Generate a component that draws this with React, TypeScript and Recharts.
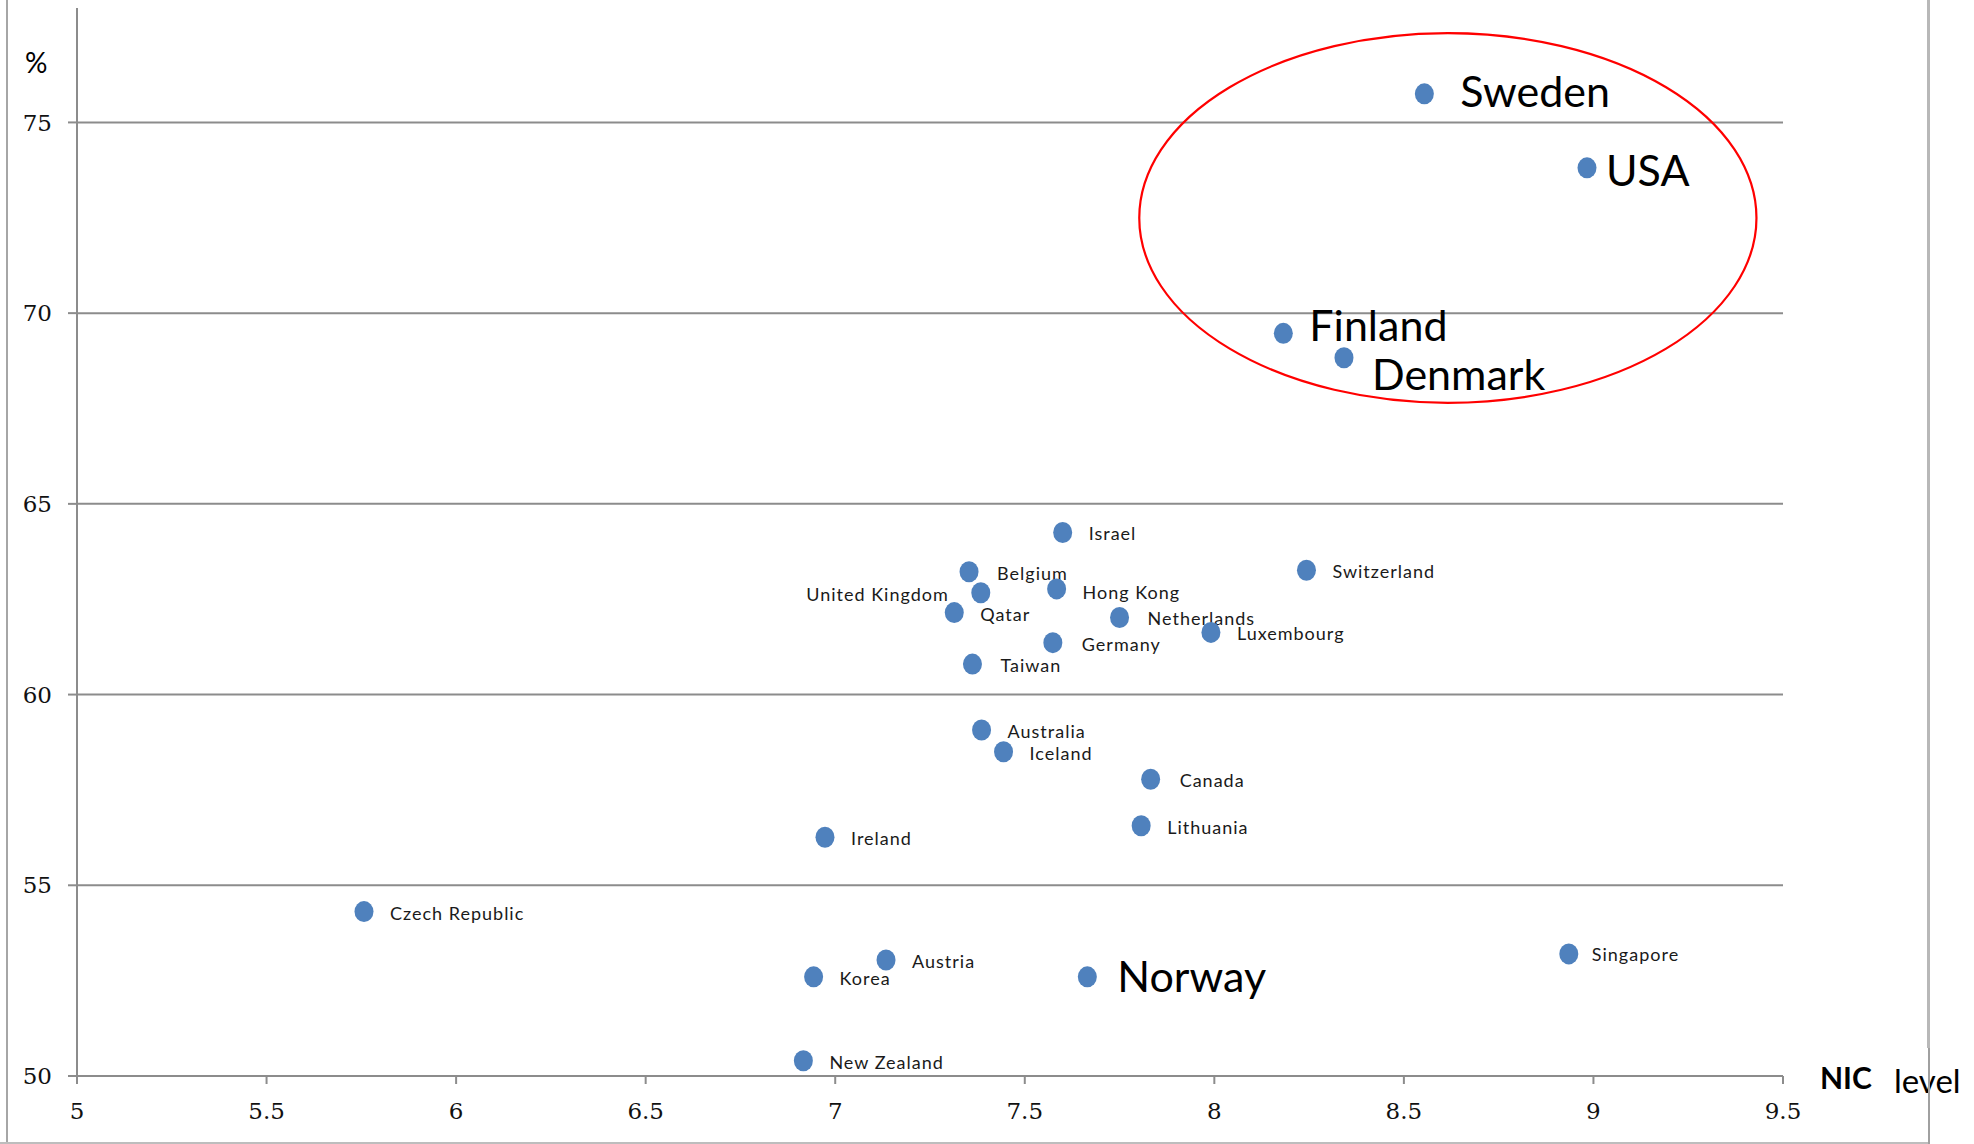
import React from 'react';
import {
  ScatterChart,
  Scatter,
  XAxis,
  YAxis,
  CartesianGrid,
  ReferenceArea,
  Label,
} from 'recharts';

// Countries, their NIC level (x) and share in percent (y)
const countries = [
  'Sweden', 'USA', 'Finland', 'Denmark', 'Israel', 'Switzerland', 'Belgium',
  'United Kingdom', 'Hong Kong', 'Qatar', 'Netherlands', 'Luxembourg', 'Germany',
  'Taiwan', 'Australia', 'Iceland', 'Canada', 'Lithuania', 'Ireland',
  'Czech Republic', 'Singapore', 'Austria', 'Korea', 'Norway', 'New Zealand',
];
const nicLevel = [
  8.554, 8.983, 8.182, 8.342, 7.6, 8.243, 7.353,
  7.384, 7.584, 7.314, 7.75, 7.991, 7.574,
  7.362, 7.386, 7.444, 7.832, 7.807, 6.973,
  5.757, 8.935, 7.134, 6.943, 7.665, 6.916,
];
const percent = [
  75.75, 73.81, 69.47, 68.83, 64.25, 63.26, 63.22,
  62.67, 62.77, 62.15, 62.02, 61.63, 61.36,
  60.8, 59.07, 58.5, 57.78, 56.56, 56.26,
  54.31, 53.2, 53.04, 52.6, 52.6, 50.4,
];
// Countries written with the large label
const highlighted = ['Sweden', 'USA', 'Finland', 'Denmark', 'Norway'];

const xTicks = [5, 5.5, 6, 6.5, 7, 7.5, 8, 8.5, 9, 9.5];
const yTicks = [50, 55, 60, 65, 70, 75];

// Bounds (data units) of the red ring drawn round the leading group
const ringX = [7.802, 9.43];
const ringY = [67.65, 77.34];

const rows = countries.map((name, i) => ({ name, nic: nicLevel[i], pct: percent[i] }));

// Label placement relative to each marker (pixels)
type Placement = { dx: number; dy: number; anchor?: 'start' | 'end' };
const defaultPlacement: Placement = { dx: 26, dy: 1.5 };
const placement: Record<string, Placement> = {
  Sweden: { dx: 36, dy: -2 },
  USA: { dx: 19, dy: 3 },
  Finland: { dx: 26, dy: -8 },
  Denmark: { dx: 28, dy: 17 },
  Norway: { dx: 30, dy: 0 },
  'United Kingdom': { dx: -32, dy: 2, anchor: 'end' },
  Belgium: { dx: 28, dy: 2 },
  'Hong Kong': { dx: 26, dy: 4 },
  Netherlands: { dx: 28, dy: 1 },
  Germany: { dx: 29, dy: 1.5 },
  Taiwan: { dx: 28, dy: 1.5 },
  Canada: { dx: 29, dy: 1 },
  Singapore: { dx: 23, dy: 1 },
  Switzerland: { dx: 26, dy: 1 },
};

const AXIS_GREY = '#8c8c8c';
const DOT_BLUE = '#4F81BD';
const SANS = 'Lato, "Open Sans", sans-serif';
const SERIF = '"DejaVu Serif", serif';

const Marker = (props: any) => {
  const { cx, cy } = props;
  if (cx == null || cy == null) return null;
  return <ellipse cx={cx} cy={cy} rx={9.5} ry={10.5} fill={DOT_BLUE} />;
};

const NameTag = (props: any) => {
  const { cx, cy, payload } = props;
  if (cx == null || cy == null) return null;
  const big = highlighted.includes(payload.name);
  const size = big ? 43 : 18;
  const p = placement[payload.name] ?? defaultPlacement;
  return (
    <text
      x={cx + p.dx}
      y={cy + p.dy + 0.36 * size}
      textAnchor={p.anchor ?? 'start'}
      fontFamily={SANS}
      fontSize={size}
      letterSpacing={big ? 0 : 1}
      fill={big ? '#000' : '#1a1a1a'}
    >
      {payload.name}
    </text>
  );
};

const Ring = (props: any) => {
  const { x, y, width, height } = props;
  return (
    <ellipse
      cx={x + width / 2}
      cy={y + height / 2}
      rx={Math.abs(width) / 2}
      ry={Math.abs(height) / 2}
      fill="none"
      stroke="#ff0000"
      strokeWidth={2.2}
    />
  );
};

const tickStyle = { fontFamily: SERIF, fontSize: 23, fill: '#111' };

export default function App() {
  return (
    <div style={{ position: 'absolute', left: 0, top: 0, width: 1974, height: 1144, background: '#fff' }}>
      <ScatterChart
        width={1974}
        height={1144}
        margin={{ top: 8, right: 191, bottom: 8, left: 8 }}
      >
        <CartesianGrid
          vertical={false}
          horizontalValues={yTicks}
          stroke={AXIS_GREY}
          strokeWidth={2}
        />
        <XAxis
          type="number"
          dataKey="nic"
          domain={[5, 9.5]}
          ticks={xTicks}
          allowDataOverflow
          height={60}
          tickSize={8}
          tickMargin={19}
          axisLine={{ stroke: AXIS_GREY, strokeWidth: 2 }}
          tickLine={{ stroke: AXIS_GREY, strokeWidth: 2 }}
          tick={tickStyle}
        >
          <Label
            content={(props: any) => {
              const vb = props.viewBox || { x: 77, y: 1076, width: 1706 };
              const right = vb.x + vb.width;
              return (
                <g>
                  <text x={right + 37} y={vb.y + 13} fontFamily={SANS} fontWeight={700} fontSize={30} fill="#000">
                    NIC
                  </text>
                  <text x={right + 111} y={vb.y + 17} fontFamily={SANS} fontSize={33} fill="#000">
                    level
                  </text>
                </g>
              );
            }}
          />
        </XAxis>
        <YAxis
          type="number"
          dataKey="pct"
          domain={[50, 78]}
          ticks={yTicks}
          allowDataOverflow
          width={69}
          tickSize={9}
          tickMargin={16}
          axisLine={{ stroke: AXIS_GREY, strokeWidth: 2 }}
          tickLine={{ stroke: AXIS_GREY, strokeWidth: 2 }}
          tick={tickStyle}
        >
          <Label
            content={(props: any) => {
              const vb = props.viewBox || { x: 8, y: 8 };
              return (
                <text x={vb.x + 17} y={vb.y + 65} fontFamily={SANS} fontSize={28} fill="#000">
                  %
                </text>
              );
            }}
          />
        </YAxis>
        <ReferenceArea
          x1={ringX[0]}
          x2={ringX[1]}
          y1={ringY[0]}
          y2={ringY[1]}
          ifOverflow="visible"
          shape={Ring}
        />
        <Scatter data={rows} shape={NameTag} isAnimationActive={false} />
        <Scatter data={rows} shape={Marker} isAnimationActive={false} />
      </ScatterChart>
      {/* frame lines round the picture */}
      <div style={{ position: 'absolute', left: 6, top: 0, width: 2, height: 1144, background: '#a6a6a6' }} />
      <div style={{ position: 'absolute', left: 0, top: 1142, width: 1930, height: 2, background: '#bdbdbd' }} />
      <div style={{ position: 'absolute', left: 1927, top: 0, width: 3, height: 1048, background: '#b8b8b8' }} />
      <div style={{ position: 'absolute', left: 1928, top: 1048, width: 1.5, height: 96, background: '#a0a0a0' }} />
    </div>
  );
}
